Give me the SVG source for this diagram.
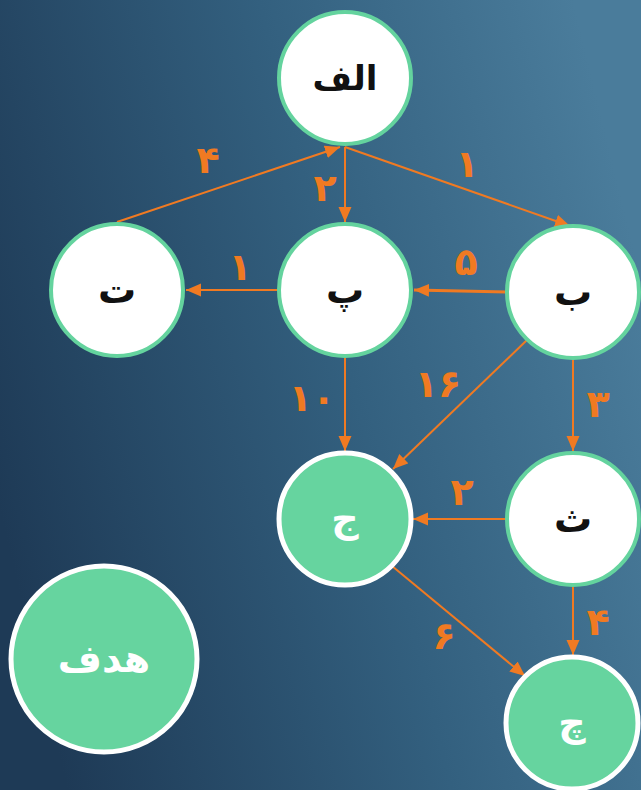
<svg xmlns="http://www.w3.org/2000/svg" width="641" height="790" viewBox="0 0 641 790">
  <defs>
    <linearGradient id="bg" x1="0" y1="0.65" x2="1" y2="0.35">
      <stop offset="0" stop-color="#1E3A56"/>
      <stop offset="0.55" stop-color="#33607F"/>
      <stop offset="1" stop-color="#4A7C9B"/>
    </linearGradient>
    <marker id="arrow" markerUnits="userSpaceOnUse" markerWidth="16" markerHeight="14" refX="15" refY="6.5" orient="auto">
      <path d="M0,0 L15,6.5 L0,13 z" fill="#F07A22"/>
    </marker>
    <style>
      .node-w circle { fill: #FFFFFF; stroke: #64D39E; stroke-width: 4; }
      .node-g circle { fill: #66D49F; stroke: #FFFFFF; stroke-width: 5; }
      .node-w text { fill: #111111; }
      .node-g text { fill: #FFFFFF; }
      .node-w text, .node-g text { font-family: "DejaVu Sans", "Noto Sans", sans-serif; font-size: 38px; font-weight: bold; text-anchor: middle; dominant-baseline: central; }
      .edge { stroke: #F07A22; stroke-width: 2; fill: none; marker-end: url(#arrow); }
      .w { font-family: "DejaVu Sans", "Noto Sans", sans-serif; font-size: 38px; font-weight: bold; fill: #F07A22; text-anchor: middle; dominant-baseline: central; }
    </style>
  </defs>

  <rect width="641" height="790" fill="url(#bg)"/>

  <!-- connectors -->
  <g id="edges">
    <line class="edge" x1="345" y1="147" x2="345" y2="222"/>
    <line class="edge" x1="345" y1="147" x2="570" y2="226"/>
    <line class="edge" x1="117" y1="222" x2="340" y2="147"/>
    <line class="edge" x1="278" y1="290" x2="186" y2="290"/>
    <line class="edge" x1="507" y1="292" x2="414" y2="290" style="stroke-width:3"/>
    <line class="edge" x1="345" y1="358" x2="345" y2="451"/>
    <line class="edge" x1="527" y1="340" x2="393" y2="469"/>
    <line class="edge" x1="573" y1="360" x2="573" y2="451"/>
    <line class="edge" x1="507" y1="519" x2="413" y2="519"/>
    <line class="edge" x1="392" y1="566" x2="525" y2="676"/>
    <line class="edge" x1="573" y1="587" x2="573" y2="655"/>
  </g>

  <!-- edge weights -->
  <g id="weights">
    <text class="w" x="208" y="160">۴</text>
    <text class="w" x="325" y="188">۲</text>
    <text class="w" x="467" y="164">۱</text>
    <text class="w" x="240" y="267">۱</text>
    <text class="w" x="466" y="262">۵</text>
    <text class="w" x="312" y="398">۱۰</text>
    <text class="w" x="438" y="384">۱۶</text>
    <text class="w" x="598" y="404">۳</text>
    <text class="w" x="462" y="492">۲</text>
    <text class="w" x="444" y="636">۶</text>
    <text class="w" x="598" y="622">۴</text>
  </g>

  <g id="node-alef" class="node-w">
    <circle cx="345" cy="78" r="66"/>
    <text x="345" y="78" style="font-size:34px">الف</text>
  </g>
  <g id="node-te" class="node-w">
    <circle cx="117" cy="290" r="66"/>
    <text x="117" y="290">ت</text>
  </g>
  <g id="node-pe" class="node-w">
    <circle cx="345" cy="290" r="66"/>
    <text x="345" y="290">پ</text>
  </g>
  <g id="node-be" class="node-w">
    <circle cx="573" cy="292" r="66"/>
    <text x="573" y="292">ب</text>
  </g>
  <g id="node-se" class="node-w">
    <circle cx="573" cy="519" r="66"/>
    <text x="573" y="519">ث</text>
  </g>
  <g id="node-jim" class="node-g">
    <circle cx="345" cy="519" r="66"/>
    <text x="345" y="519">ج</text>
  </g>
  <g id="node-che" class="node-g">
    <circle cx="572" cy="723" r="66"/>
    <text x="572" y="723">چ</text>
  </g>
  <g id="node-goal" class="node-g">
    <circle cx="104" cy="659" r="93"/>
    <text x="104" y="659">هدف</text>
  </g>
</svg>
